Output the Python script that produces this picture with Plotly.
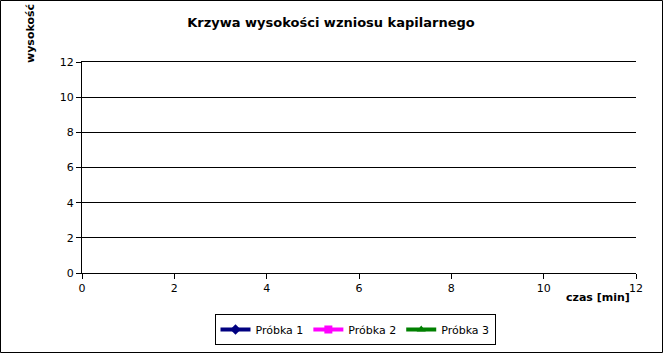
import plotly.graph_objects as go

# Data (chart has no plotted values: measurements are empty)
czas = [None]
probka_1 = [None]
probka_2 = [None]
probka_3 = [None]

series_names = ["Próbka 1", "Próbka 2", "Próbka 3"]
x_ticks = [0, 2, 4, 6, 8, 10, 12]
y_ticks = [0, 2, 4, 6, 8, 10, 12]

W, H = 663, 353
L, R, T, B = 82, 27, 62, 80
pw = W - L - R
ph = H - T - B

fig = go.Figure()
styles = [
    ("#000080", "diamond"),
    ("#FF00FF", "square"),
    ("#008000", "triangle-up"),
]
for name, ys, (col, sym) in zip(series_names, [probka_1, probka_2, probka_3], styles):
    fig.add_trace(go.Scatter(
        x=czas, y=ys, name=name, mode="lines+markers",
        line=dict(color=col, width=4),
        marker=dict(color=col, symbol=sym, size=8),
        showlegend=True,
    ))

font = "DejaVu Sans, Verdana, sans-serif"

def px_x(px):
    return (px - L) / pw

def px_y(py):
    return (H - B - py) / ph

fig.update_layout(
    width=W, height=H,
    margin=dict(l=L, r=R, t=T, b=B, pad=0, autoexpand=False),
    paper_bgcolor="white", plot_bgcolor="white",
    font=dict(family=font, size=11, color="black"),
    showlegend=True,
    title=dict(
        text="<b>Krzywa wysokości wzniosu kapilarnego</b>",
        x=px_x(331), xref="paper", xanchor="center",
        y=1 - 22 / H, yref="container", yanchor="middle",
        font=dict(family=font, size=13, color="black"),
    ),
    xaxis=dict(
        range=[0, 12], tickvals=x_ticks, ticktext=[str(v) for v in x_ticks],
        showgrid=False, zeroline=False,
        showline=True, linecolor="black", linewidth=1, mirror=True,
        ticks="outside", ticklen=5, tickcolor="black", tickwidth=1,
        tickfont=dict(family=font, size=11, color="black"),
        fixedrange=True, automargin=False,
    ),
    yaxis=dict(
        range=[0, 12], tickvals=y_ticks, ticktext=[str(v) for v in y_ticks],
        showgrid=True, gridcolor="black", gridwidth=1,
        zeroline=False,
        showline=True, linecolor="black", linewidth=1,
        ticks="outside", ticklen=5, tickcolor="black", tickwidth=1,
        tickfont=dict(family=font, size=11, color="black"),
        fixedrange=True, automargin=False,
    ),
    legend=dict(
        orientation="h",
        x=355 / W, xref="container", xanchor="center",
        y=1 - 314 / H, yref="container", yanchor="top",
        bordercolor="black", borderwidth=1,
        bgcolor="white",
        font=dict(family=font, size=11, color="black"),
        itemwidth=30,
        tracegroupgap=0,
    ),
)

fig.add_annotation(
    text="<b>czas [min]</b>", xref="paper", yref="paper",
    x=px_x(632), y=px_y(297), xanchor="right", yanchor="middle",
    showarrow=False, font=dict(family=font, size=11, color="black"),
)
fig.add_annotation(
    text="<b>wysokość</b>", xref="paper", yref="paper",
    x=px_x(30), y=px_y(65), xanchor="center", yanchor="bottom",
    textangle=-90, showarrow=False,
    font=dict(family=font, size=11, color="black"),
)

fig.add_shape(
    type="rect", xref="paper", yref="paper",
    x0=px_x(0.5), x1=px_x(W - 0.5), y0=px_y(H - 0.5), y1=px_y(0.5),
    line=dict(color="black", width=1), fillcolor="rgba(0,0,0,0)",
    layer="above",
)

fig.write_html("out.html")
